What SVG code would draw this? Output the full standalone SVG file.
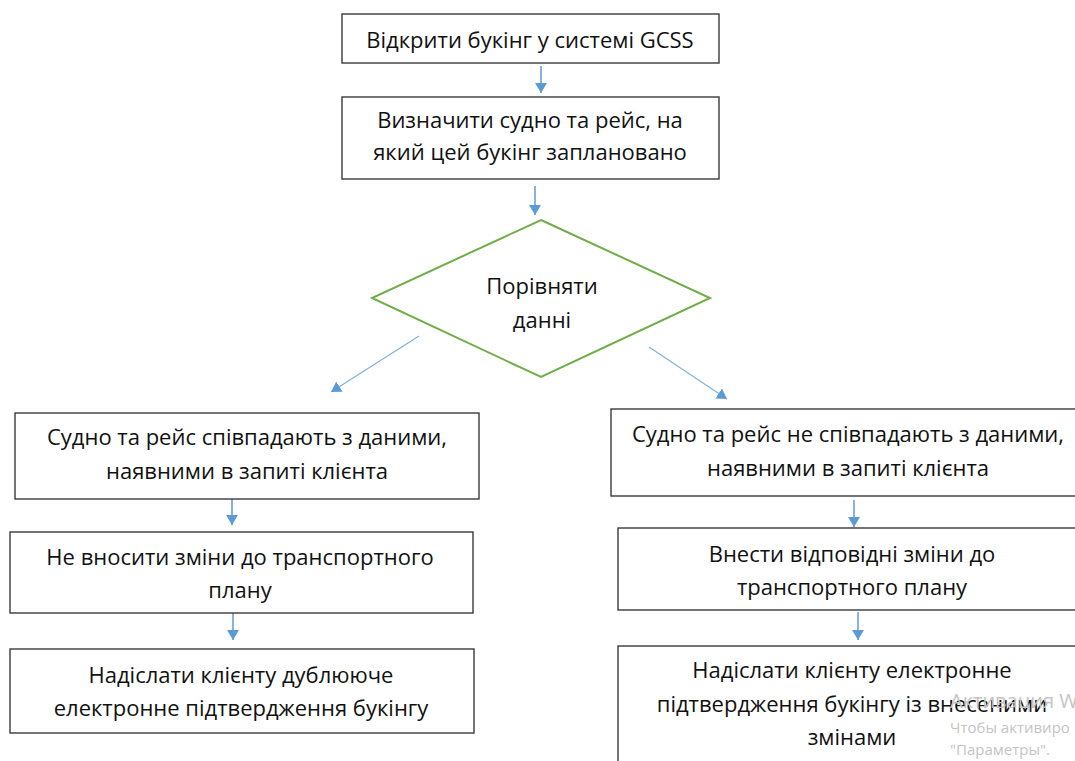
<svg xmlns="http://www.w3.org/2000/svg" width="1075" height="761" viewBox="0 0 1075 761">
<defs>
<marker id="ah" viewBox="0 0 10 12" refX="10" refY="6" markerWidth="10" markerHeight="12" markerUnits="userSpaceOnUse" orient="auto">
<path d="M0,0 L10,6 L0,12 Z" fill="#5b9bd5"/>
</marker>
<style>
.box{fill:#fff;stroke:#3a3a3a;stroke-width:1.4}
.dia{fill:#fff;stroke:#70ad47;stroke-width:2}
.t{font-family:"Open Sans","Liberation Sans",Arial,sans-serif;font-size:22px;fill:#111;text-anchor:middle}
.c{stroke:#5b9bd5;stroke-width:1.5;fill:none;marker-end:url(#ah)}
.d{stroke:#7fb0e0;stroke-width:1.2;fill:none;marker-end:url(#ah)}
.w{font-family:"Open Sans","Liberation Sans",Arial,sans-serif;fill:#c4c4c4}
</style>
</defs>
<rect width="1075" height="761" fill="#fff"/>
<g id="connectors">
<line class="c" x1="541" y1="66" x2="541" y2="93"/>
<line class="c" x1="535" y1="186" x2="535" y2="215"/>
<line class="d" x1="419" y1="336" x2="331" y2="392"/>
<line class="d" x1="649" y1="347" x2="727" y2="399"/>
<line class="c" x1="232" y1="499" x2="232" y2="525"/>
<line class="c" x1="233" y1="613" x2="233" y2="640"/>
<line class="c" x1="854" y1="500" x2="854" y2="527"/>
<line class="c" x1="858" y1="612" x2="858" y2="640"/>
</g>
<g id="n1">
<rect class="box" x="342" y="14" width="377" height="49"/>
<text class="t" x="530" y="48">Відкрити букінг у системі GCSS</text>
</g>
<g id="n2">
<rect class="box" x="342" y="97" width="377" height="82"/>
<text class="t" x="530" y="128">Визначити судно та рейс, на</text>
<text class="t" x="530" y="160">який цей букінг заплановано</text>
</g>
<g id="n3">
<polygon class="dia" points="541,220 710,298 541,377 372,298"/>
<text class="t" x="542" y="294">Порівняти</text>
<text class="t" x="542" y="328">данні</text>
</g>
<g id="n4">
<rect class="box" x="15" y="413" width="464" height="86"/>
<text class="t" x="247" y="445">Судно та рейс співпадають з даними,</text>
<text class="t" x="247" y="479">наявними в запиті клієнта</text>
</g>
<g id="n5">
<rect class="box" x="10" y="532" width="463" height="81"/>
<text class="t" x="240" y="565">Не вносити зміни до транспортного</text>
<text class="t" x="240" y="598">плану</text>
</g>
<g id="n6">
<rect class="box" x="10" y="649" width="464" height="84"/>
<text class="t" x="241" y="683">Надіслати клієнту дублююче</text>
<text class="t" x="241" y="716">електронне підтвердження букінгу</text>
</g>
<g id="n7">
<rect class="box" x="611" y="409" width="480" height="87"/>
<text class="t" x="848" y="442">Судно та рейс не співпадають з даними,</text>
<text class="t" x="848" y="476">наявними в запиті клієнта</text>
</g>
<g id="n8">
<rect class="box" x="618" y="528" width="470" height="82"/>
<text class="t" x="852" y="562">Внести відповідні зміни до</text>
<text class="t" x="852" y="595">транспортного плану</text>
</g>
<g id="n9">
<rect class="box" x="618" y="646" width="470" height="130"/>
<text class="t" x="852" y="678">Надіслати клієнту електронне</text>
<text class="t" x="852" y="712">підтвердження букінгу із внесеними</text>
<text class="t" x="852" y="745">змінами</text>
</g>
<g id="watermark">
<text class="w" x="950" y="708" font-size="20">Активация W</text>
<text class="w" x="950" y="733" font-size="15">Чтобы активиро</text>
<text class="w" x="950" y="755" font-size="15">"Параметры".</text>
</g>
</svg>
